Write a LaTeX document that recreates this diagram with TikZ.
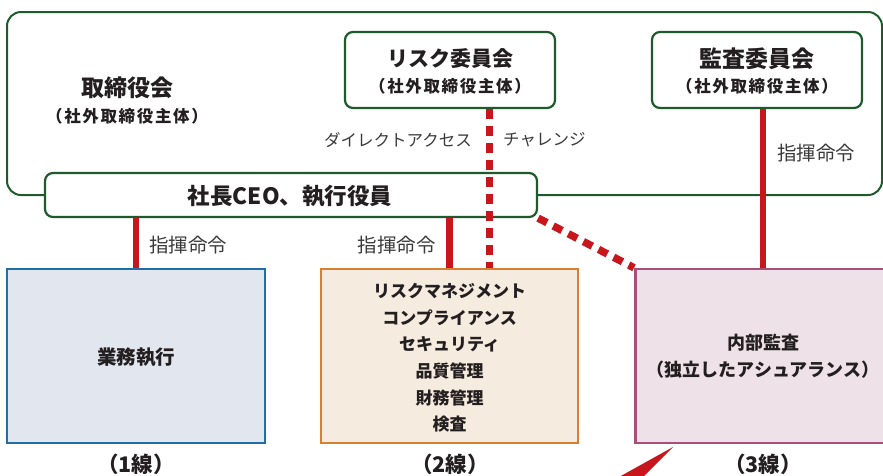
\documentclass[tikz,border=0pt]{standalone}
\usepackage{fontspec}
\setmainfont{Noto Sans CJK JP}
\begin{document}
\begin{tikzpicture}[x=1pt,y=-1pt,
  green/.style={draw=boardgreen,line width=2pt,rounded corners=14pt},
  smallbox/.style={draw=boardgreen,line width=2.2pt,rounded corners=8pt,fill=white},
  linebox/.style={line width=2.5pt,minimum height=174pt},
  redline/.style={draw=linered,line width=6.5pt},
  reddash/.style={draw=linered,line width=7pt,dash pattern=on 10pt off 7pt},
  ttl/.style={font=\bfseries\fontsize{21}{24}\selectfont,text=txtdark},
  sub/.style={font=\bfseries\fontsize{16.5}{18}\selectfont\addfontfeature{LetterSpace=10},text=txtdark},
  lbl/.style={font=\fontsize{16.5}{19}\selectfont,text=txtgray,inner sep=0pt},
  cmd/.style={font=\fontsize{19.5}{22}\selectfont,text=txtgray,inner sep=0pt},
  body/.style={font=\bfseries\fontsize{17}{26.6}\selectfont,text=txtdark,align=center},
  linelbl/.style={font=\bfseries\fontsize{21.5}{24}\selectfont,text=txtdark},
]
\definecolor{boardgreen}{HTML}{1E5A2C}
\definecolor{linered}{HTML}{C8161D}
\definecolor{txtdark}{HTML}{231F20}
\definecolor{txtgray}{HTML}{3A3A3A}
\definecolor{bluebd}{HTML}{1F6EA5}
\definecolor{bluefill}{HTML}{E1E6EF}
\definecolor{orangebd}{HTML}{D8802F}
\definecolor{orangefill}{HTML}{F6EBDF}
\definecolor{pinkbd}{HTML}{A6507A}
\definecolor{pinkfill}{HTML}{EEE2E8}
\clip (0,0) rectangle (883,475);
% board
\node[green,minimum width=875pt,minimum height=183pt,inner sep=0pt] (board) at (444.5,103.5) {};
\node[ttl,font=\bfseries\fontsize{23}{26}\selectfont] (boardt) at (127,88) {取締役会};
\node[sub] (boards) at (127,116) {（社外取締役主体）};
% committees
\node[smallbox,minimum width=210pt,minimum height=76pt,inner sep=0pt] (risk) at (450,70) {};
\node[ttl] (riskt) at (450,59) {リスク委員会};
\node[sub] (risks) at (450,86) {（社外取締役主体）};
\node[smallbox,minimum width=210pt,minimum height=76pt,inner sep=0pt] (audit) at (757,70) {};
\node[ttl,font=\bfseries\fontsize{23}{26}\selectfont] (auditt) at (757,59) {監査委員会};
\node[sub] (audits) at (757,86) {（社外取締役主体）};
% CEO
\node[smallbox,minimum width=492pt,minimum height=44pt,inner sep=0pt] (ceo) at (291,195) {};
\node[ttl,font=\bfseries\fontsize{22.5}{25}\selectfont] (ceot) at (290,196) {社長CEO、執行役員};
% lines boxes
\node[linebox,draw=bluebd,fill=bluefill,minimum width=258pt] (l1) at (136,356) {};
\node[linebox,draw=orangebd,fill=orangefill,minimum width=257pt] (l2) at (449.5,356) {};
\node[linebox,draw=pinkbd,fill=pinkfill,minimum width=260pt,anchor=west] (l3) at (634,356) {};
\node[body,font=\bfseries\fontsize{19.5}{22}\selectfont] (l1t) at (136,357) {業務執行};
\node[body] (l2t) at (449.5,358) {リスクマネジメント\\コンプライアンス\\セキュリティ\\品質管理\\財務管理\\検査};
\node[body,font=\bfseries\fontsize{18}{27}\selectfont] (l3t) at (763,356) {内部監査\\（独立したアシュアランス）};
% line labels
\node[linelbl] (n1) at (136,464) {（1線）};
\node[linelbl] (n2) at (450,464) {（2線）};
\node[linelbl] (n3) at (763,464) {（3線）};
% connectors
\draw[redline] (l1.north |- ceo.south) -- (l1.north);
\draw[redline] (l2.north |- ceo.south) -- (l2.north);
\draw[redline] ([xshift=6pt]audit.south) -- ([xshift=6pt]audit.south |- l3.north);
\draw[reddash] ([xshift=39pt]risk.south) -- ([xshift=39pt]risk.south |- l2.north);
\draw[reddash,line width=7.5pt] (ceo.south east) -- (l3.north west);
% labels on connectors
\node[lbl,anchor=east] (da) at (472,140) {ダイレクトアクセス};
\node[lbl,anchor=west] (ch) at (503,140) {チャレンジ};
\node[cmd,anchor=west] (c3) at (777,153) {指揮命令};
\node[cmd,anchor=west] (c1) at (149,245) {指揮命令};
\node[cmd,anchor=east] (c2) at (436,245) {指揮命令};
% wedge
\fill[linered] (673,447) -- (643,477) -- (619,477) -- cycle;
\end{tikzpicture}
\end{document}
